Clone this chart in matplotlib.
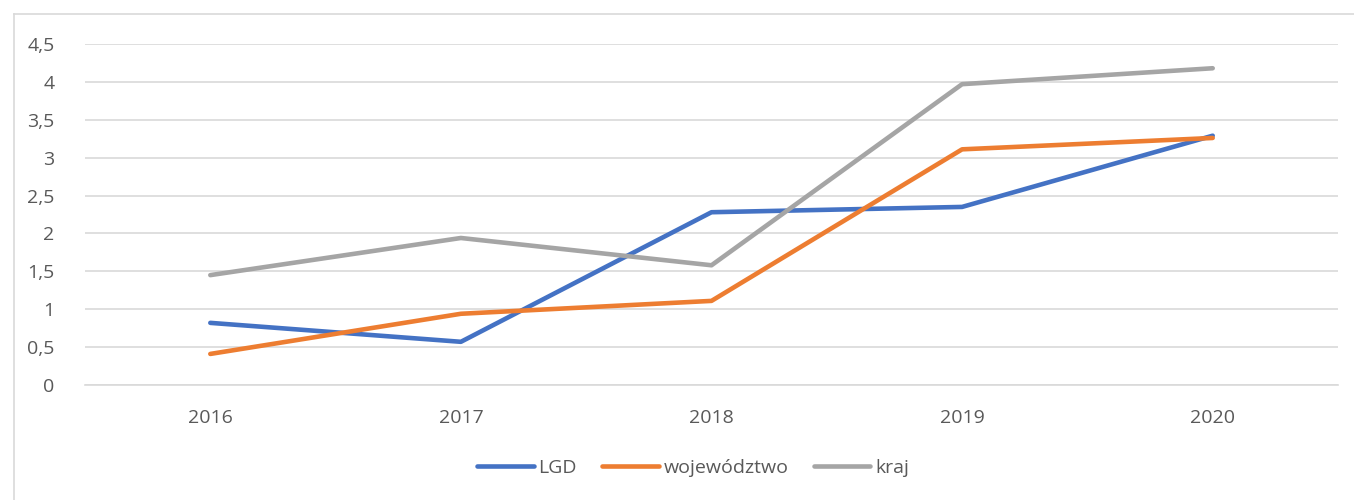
import matplotlib.pyplot as plt
from matplotlib.lines import Line2D
from matplotlib.ticker import FuncFormatter

years = ['2016', '2017', '2018', '2019', '2020']
lgd = [0.82, 0.57, 2.28, 2.35, 3.29]
wojewodztwo = [0.41, 0.94, 1.11, 3.11, 3.26]
kraj = [1.45, 1.94, 1.58, 3.97, 4.18]

series = [('LGD', lgd, '#4472C4'),
          ('województwo', wojewodztwo, '#ED7D31'),
          ('kraj', kraj, '#A5A5A5')]

plt.rcParams['font.family'] = ['Open Sans', 'DejaVu Sans']
text_col = '#595959'
grid_col = '#d9d9d9'

fig = plt.figure(figsize=(13.54, 5.0), dpi=100)
ax = fig.add_axes([85 / 1354, 1 - 385 / 500, (1338 - 85) / 1354, (385 - 44) / 500])

x = range(len(years))
for name, vals, col in series:
    ax.plot(x, vals, color=col, lw=3.3, solid_capstyle='round',
            solid_joinstyle='round', label=name)

ax.set_xlim(-0.5, len(years) - 0.5)
ax.set_ylim(0, 4.5)
ax.set_yticks([i * 0.5 for i in range(10)])
ax.yaxis.set_major_formatter(FuncFormatter(lambda v, p: f'{v:g}'.replace('.', ',')))
ax.set_xticks(list(x))
ax.set_xticklabels(years)
ax.grid(axis='y', color=grid_col, lw=1.2)
ax.set_axisbelow(True)
for s in ['top', 'right', 'left']:
    ax.spines[s].set_visible(False)
ax.spines['bottom'].set_color(grid_col)
ax.spines['bottom'].set_linewidth(1.2)
ax.tick_params(length=0, labelsize=14, colors=text_col)
ax.tick_params(axis='y', pad=22)
ax.tick_params(axis='x', pad=17)

leg = fig.legend(loc='center', bbox_to_anchor=(693 / 1354, 1 - 468 / 500), ncol=3,
                 frameon=False, fontsize=14, handlelength=2.9, columnspacing=1.3,
                 handletextpad=0.25)
for t in leg.get_texts():
    t.set_color(text_col)

# chart area frame
fig.add_artist(Line2D([14 / 1354, 14 / 1354], [0, 1 - 14 / 500], color=grid_col, lw=1.2))
fig.add_artist(Line2D([14 / 1354, 1], [1 - 14 / 500, 1 - 14 / 500], color=grid_col, lw=1.2))

fig.savefig('out.png', dpi=100)
